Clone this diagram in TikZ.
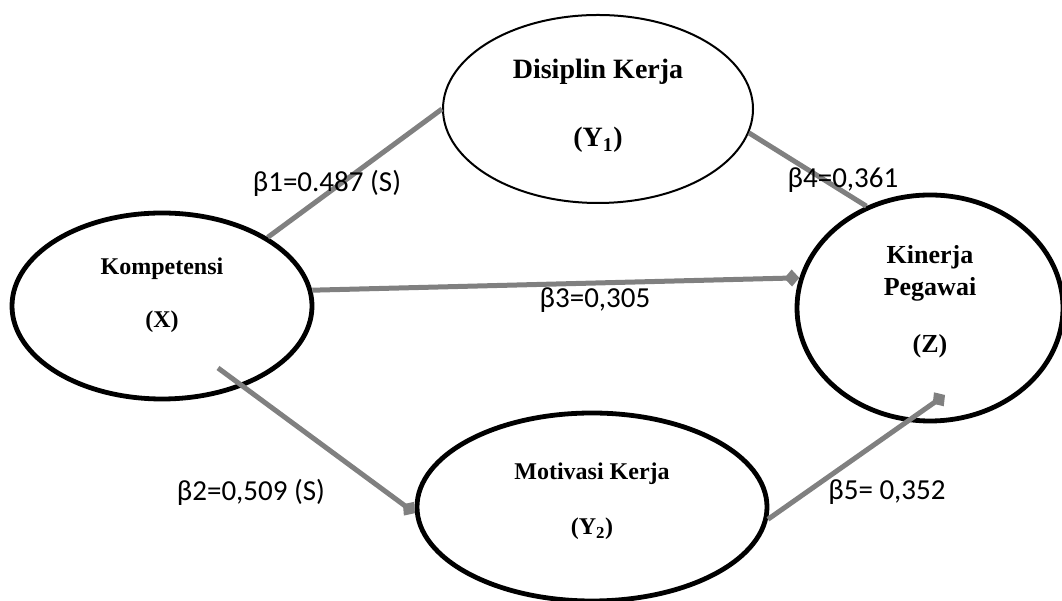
\documentclass[tikz,border=0pt]{standalone}
\usepackage{fontspec}
\setmainfont{Liberation Serif}
\newfontfamily\coeffont{Carlito}
\usetikzlibrary{arrows.meta,shapes.geometric}
\definecolor{pathgray}{RGB}{128,128,128}

\begin{document}
\begin{tikzpicture}[x=1pt,y=1pt,
  var/.style={ellipse,draw,fill=white,line width=4.8pt,align=center,inner sep=0pt},
  path/.style={draw=pathgray,line width=5pt},
  tip/.style={-{Diamond[length=15pt,width=17pt]}},
  coef/.style={font=\coeffont\fontsize{29}{34}\selectfont}]
  \useasboundingbox (0,0) rectangle (1062,601);

  % variables
  \node[var,minimum width=300pt,minimum height=186pt,text depth=26pt,font=\bfseries\fontsize{24}{28}\selectfont]
    (X) at (162,295) {Kompetensi\\[25pt](X)};
  \node[var,line width=2pt,minimum width=310pt,minimum height=188pt,text depth=12pt,font=\bfseries\fontsize{28}{32}\selectfont]
    (Y1) at (598,492) {Disiplin Kerja\\[36pt](Y\textsubscript{1})};
  \node[var,minimum width=350pt,minimum height=188pt,text depth=16pt,font=\bfseries\fontsize{24}{28}\selectfont]
    (Y2) at (592,94) {Motivasi Kerja\\[27pt](Y\textsubscript{2})};
  \node[var,minimum width=266pt,minimum height=226pt,text depth=18pt,font=\bfseries\fontsize{26}{32}\selectfont]
    (Z) at (930,293) {Kinerja\\Pegawai\\[25pt](Z)};

  % paths
  \coordinate (b2s) at (218,233);
  \coordinate (b5e) at (945,206);
  \draw[path] (X.33) -- (Y1.west);
  \draw[path] (Y1.-9) -- (Z.122);
  \draw[path,tip] (X.6) -- (Z.167);
  \draw[path,tip] (b2s) -- (Y2.182);
  \draw[path,tip] (Y2.-4) -- (b5e);

  % coefficients
  \node[coef] (b1) at (327,418) {β1=0.487 (S)};
  \node[coef] (b4) at (843,421) {β4=0,361};
  \node[coef] (b3) at (595,301) {β3=0,305};
  \node[coef] (b2) at (251,109) {β2=0,509 (S)};
  \node[coef] (b5) at (887,109) {β5= 0,352};
\end{tikzpicture}
\end{document}
